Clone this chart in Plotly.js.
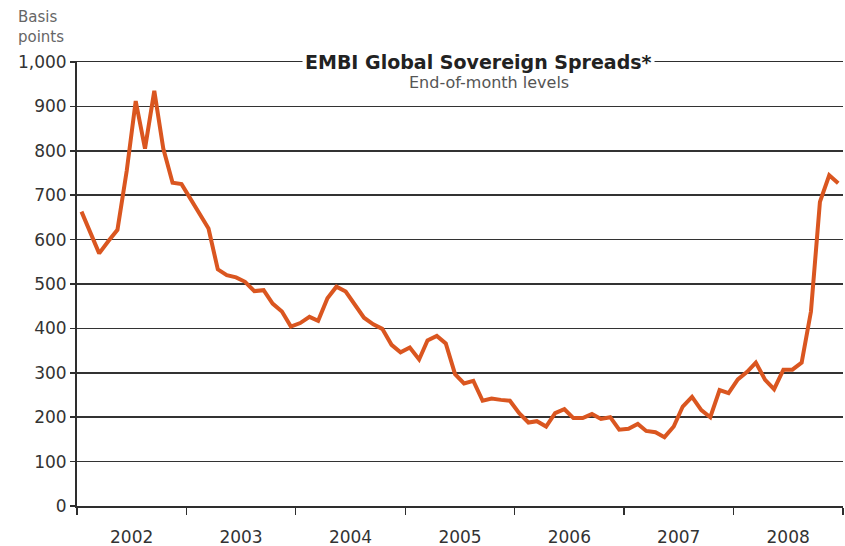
<!DOCTYPE html>
<html>
<head>
<meta charset="utf-8">
<script src="https://cdn.plot.ly/plotly-3.0.1.min.js"></script>
<style>html,body{margin:0;padding:0;background:#fff;}#chart{width:845px;height:546px;}</style>
</head>
<body>
<div id="chart"></div>
<script>
// Years covered by the chart (x categories are month ends within these years)
var years = [2002, 2003, 2004, 2005, 2006, 2007, 2008];

// EMBI Global sovereign spreads, end-of-month levels (basis points), one array per year
var spreads2002 = [663, 616, 569, 597, 622, 755, 912, 805, 935, 805, 728, 725];
var spreads2003 = [689, 657, 625, 533, 520, 515, 505, 484, 486, 456, 438, 404];
var spreads2004 = [412, 426, 417, 468, 494, 483, 453, 424, 409, 399, 363, 346];
var spreads2005 = [357, 330, 373, 383, 366, 297, 276, 282, 237, 242, 239, 237];
var spreads2006 = [209, 188, 191, 179, 209, 218, 198, 198, 207, 196, 200, 172];
var spreads2007 = [174, 185, 169, 166, 155, 179, 224, 246, 216, 200, 261, 254];
var spreads2008 = [285, 302, 323, 284, 263, 307, 307, 323, 438, 685, 745, 727];

var yTickVals = [0, 100, 200, 300, 400, 500, 600, 700, 800, 900, 1000];

var titleText = "EMBI Global Sovereign Spreads*";
var subtitleText = "End-of-month levels";
var yUnitText = "Basis<br>points";

// Build month positions (mid-month) from the year list
var yearly = [spreads2002, spreads2003, spreads2004, spreads2005, spreads2006, spreads2007, spreads2008];
var xs = [], ys = [];
years.forEach(function (yr, i) {
  yearly[i].forEach(function (v, m) {
    var mm = (m + 1 < 10 ? "0" : "") + (m + 1);
    xs.push(yr + "-" + mm + "-16");
    ys.push(v);
  });
});

var font = "DejaVu Sans, Verdana, sans-serif";
var dark = "#2e2e2e";

var trace = {
  x: xs, y: ys, type: "scatter", mode: "lines",
  line: {color: "#DA5620", width: 4, shape: "linear"},
  hoverinfo: "x+y"
};

var layout = {
  width: 845, height: 546,
  margin: {l: 77, r: 2, t: 62, b: 40},
  paper_bgcolor: "#ffffff", plot_bgcolor: "#ffffff",
  showlegend: false,
  font: {family: font, color: dark, size: 16},
  xaxis: {
    type: "date",
    range: [years[0] + "-01-01", (years[years.length - 1] + 1) + "-01-01"],
    tick0: years[0] + "-01-01", dtick: "M12",
    ticklabelmode: "period", tickformat: "%Y",
    ticks: "outside", ticklen: 7, tickwidth: 1.5, tickcolor: dark,
    ticklabelstandoff: 8,
    showgrid: false, zeroline: false,
    showline: true, mirror: true, linecolor: dark, linewidth: 1.5,
    tickfont: {family: font, size: 17, color: "#333"},
    fixedrange: true
  },
  yaxis: {
    range: [0, 1000],
    tickvals: yTickVals, tickformat: ",",
    ticks: "outside", ticklen: 5, tickwidth: 1.5, tickcolor: dark,
    showgrid: true, gridcolor: "#333333", gridwidth: 1.5,
    zeroline: false,
    showline: true, linecolor: dark, linewidth: 2,
    tickfont: {family: font, size: 17, color: "#333"},
    fixedrange: true
  },
  annotations: [
    {
      xref: "paper", yref: "y", x: 0.5245, y: 1000, xanchor: "center", yanchor: "middle",
      text: "<b>" + titleText + "</b>", showarrow: false,
      bgcolor: "#ffffff", borderpad: 2,
      font: {family: font, size: 19, color: "#222"}
    },
    {
      xref: "paper", yref: "paper", x: 0.538, y: 0.953, xanchor: "center", yanchor: "middle",
      text: subtitleText, showarrow: false,
      font: {family: font, size: 16, color: "#555"}
    },
    {
      xref: "paper", yref: "paper", x: -0.08, y: 1.127, xanchor: "left", yanchor: "top",
      text: yUnitText, showarrow: false, align: "left",
      font: {family: font, size: 15, color: "#666"}
    }
  ]
};

Plotly.newPlot("chart", [trace], layout, {displayModeBar: false, staticPlot: true});
</script>
</body>
</html>
